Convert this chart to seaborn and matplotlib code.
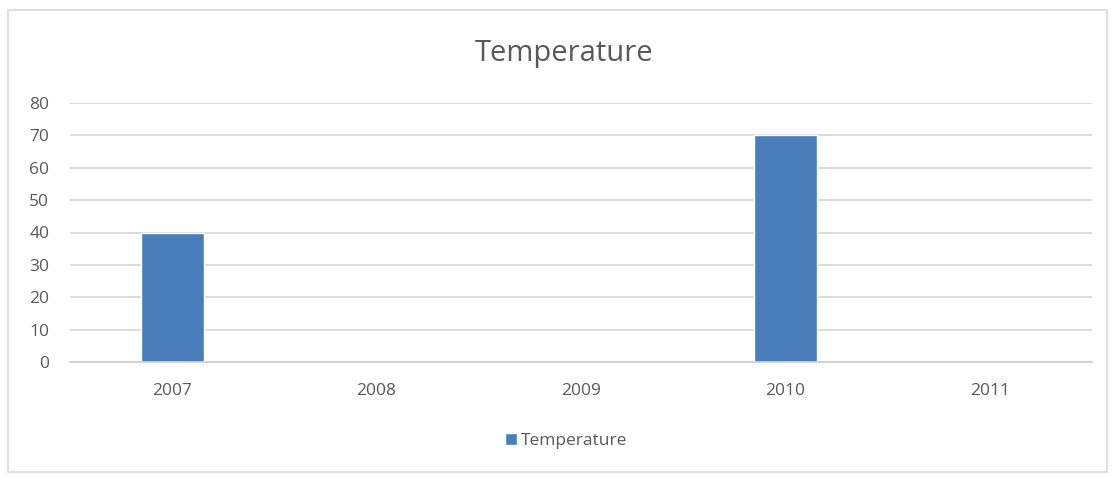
import matplotlib
matplotlib.use("Agg")
import matplotlib.pyplot as plt
import seaborn as sns
import pandas as pd
from matplotlib.patches import Rectangle

years = ["2007", "2008", "2009", "2010", "2011"]
temperature = [40, 0, 0, 70, 0]
series_name = "Temperature"
y_ticks = [0, 10, 20, 30, 40, 50, 60, 70, 80]

df = pd.DataFrame({"Year": years, "Value": temperature, "Series": series_name})

sns.set_theme(style="white")
plt.rcParams["font.family"] = ["Open Sans", "DejaVu Sans"]

W, H = 1115, 478
fig = plt.figure(figsize=(W / 100, H / 100), dpi=100)
ax = fig.add_axes([70 / W, 1 - 362 / H, (1092 - 70) / W, (362 - 103) / H])

bar_color = "#4a7ebb"
sns.barplot(data=df, x="Year", y="Value", hue="Series", palette=[bar_color],
            width=0.31, ax=ax, saturation=1)

ax.set_ylim(0, 80)
ax.set_yticks(y_ticks)
ax.yaxis.grid(True, color="#d9d9d9", linewidth=1.3)
ax.set_axisbelow(True)
for s in ["top", "right", "left"]:
    ax.spines[s].set_visible(False)
ax.spines["bottom"].set_color("#d0d0d0")
ax.spines["bottom"].set_linewidth(1.3)
ax.set_xlabel("")
ax.set_ylabel("")
ax.tick_params(axis="both", length=0, labelsize=12.5, labelcolor="#595959")
ax.tick_params(axis="x", pad=15)
ax.tick_params(axis="y", pad=15)

fig.text(564 / W, 1 - 53 / H, "Temperature", ha="center", va="center",
         fontsize=21, color="#595959")

leg = ax.legend(loc="center", bbox_to_anchor=(566 / W, 1 - 441 / H),
                bbox_transform=fig.transFigure, frameon=False, fontsize=12.5,
                handlelength=0.7, handleheight=0.7, handletextpad=0.2)
for t in leg.get_texts():
    t.set_color("#595959")

fig.patches.append(Rectangle((8 / W, 1 - 472 / H), (1107 - 8) / W, (472 - 10) / H,
                             transform=fig.transFigure, fill=False,
                             edgecolor="#d9d9d9", linewidth=1.2))

fig.savefig("out.png", dpi=100, facecolor="white")
